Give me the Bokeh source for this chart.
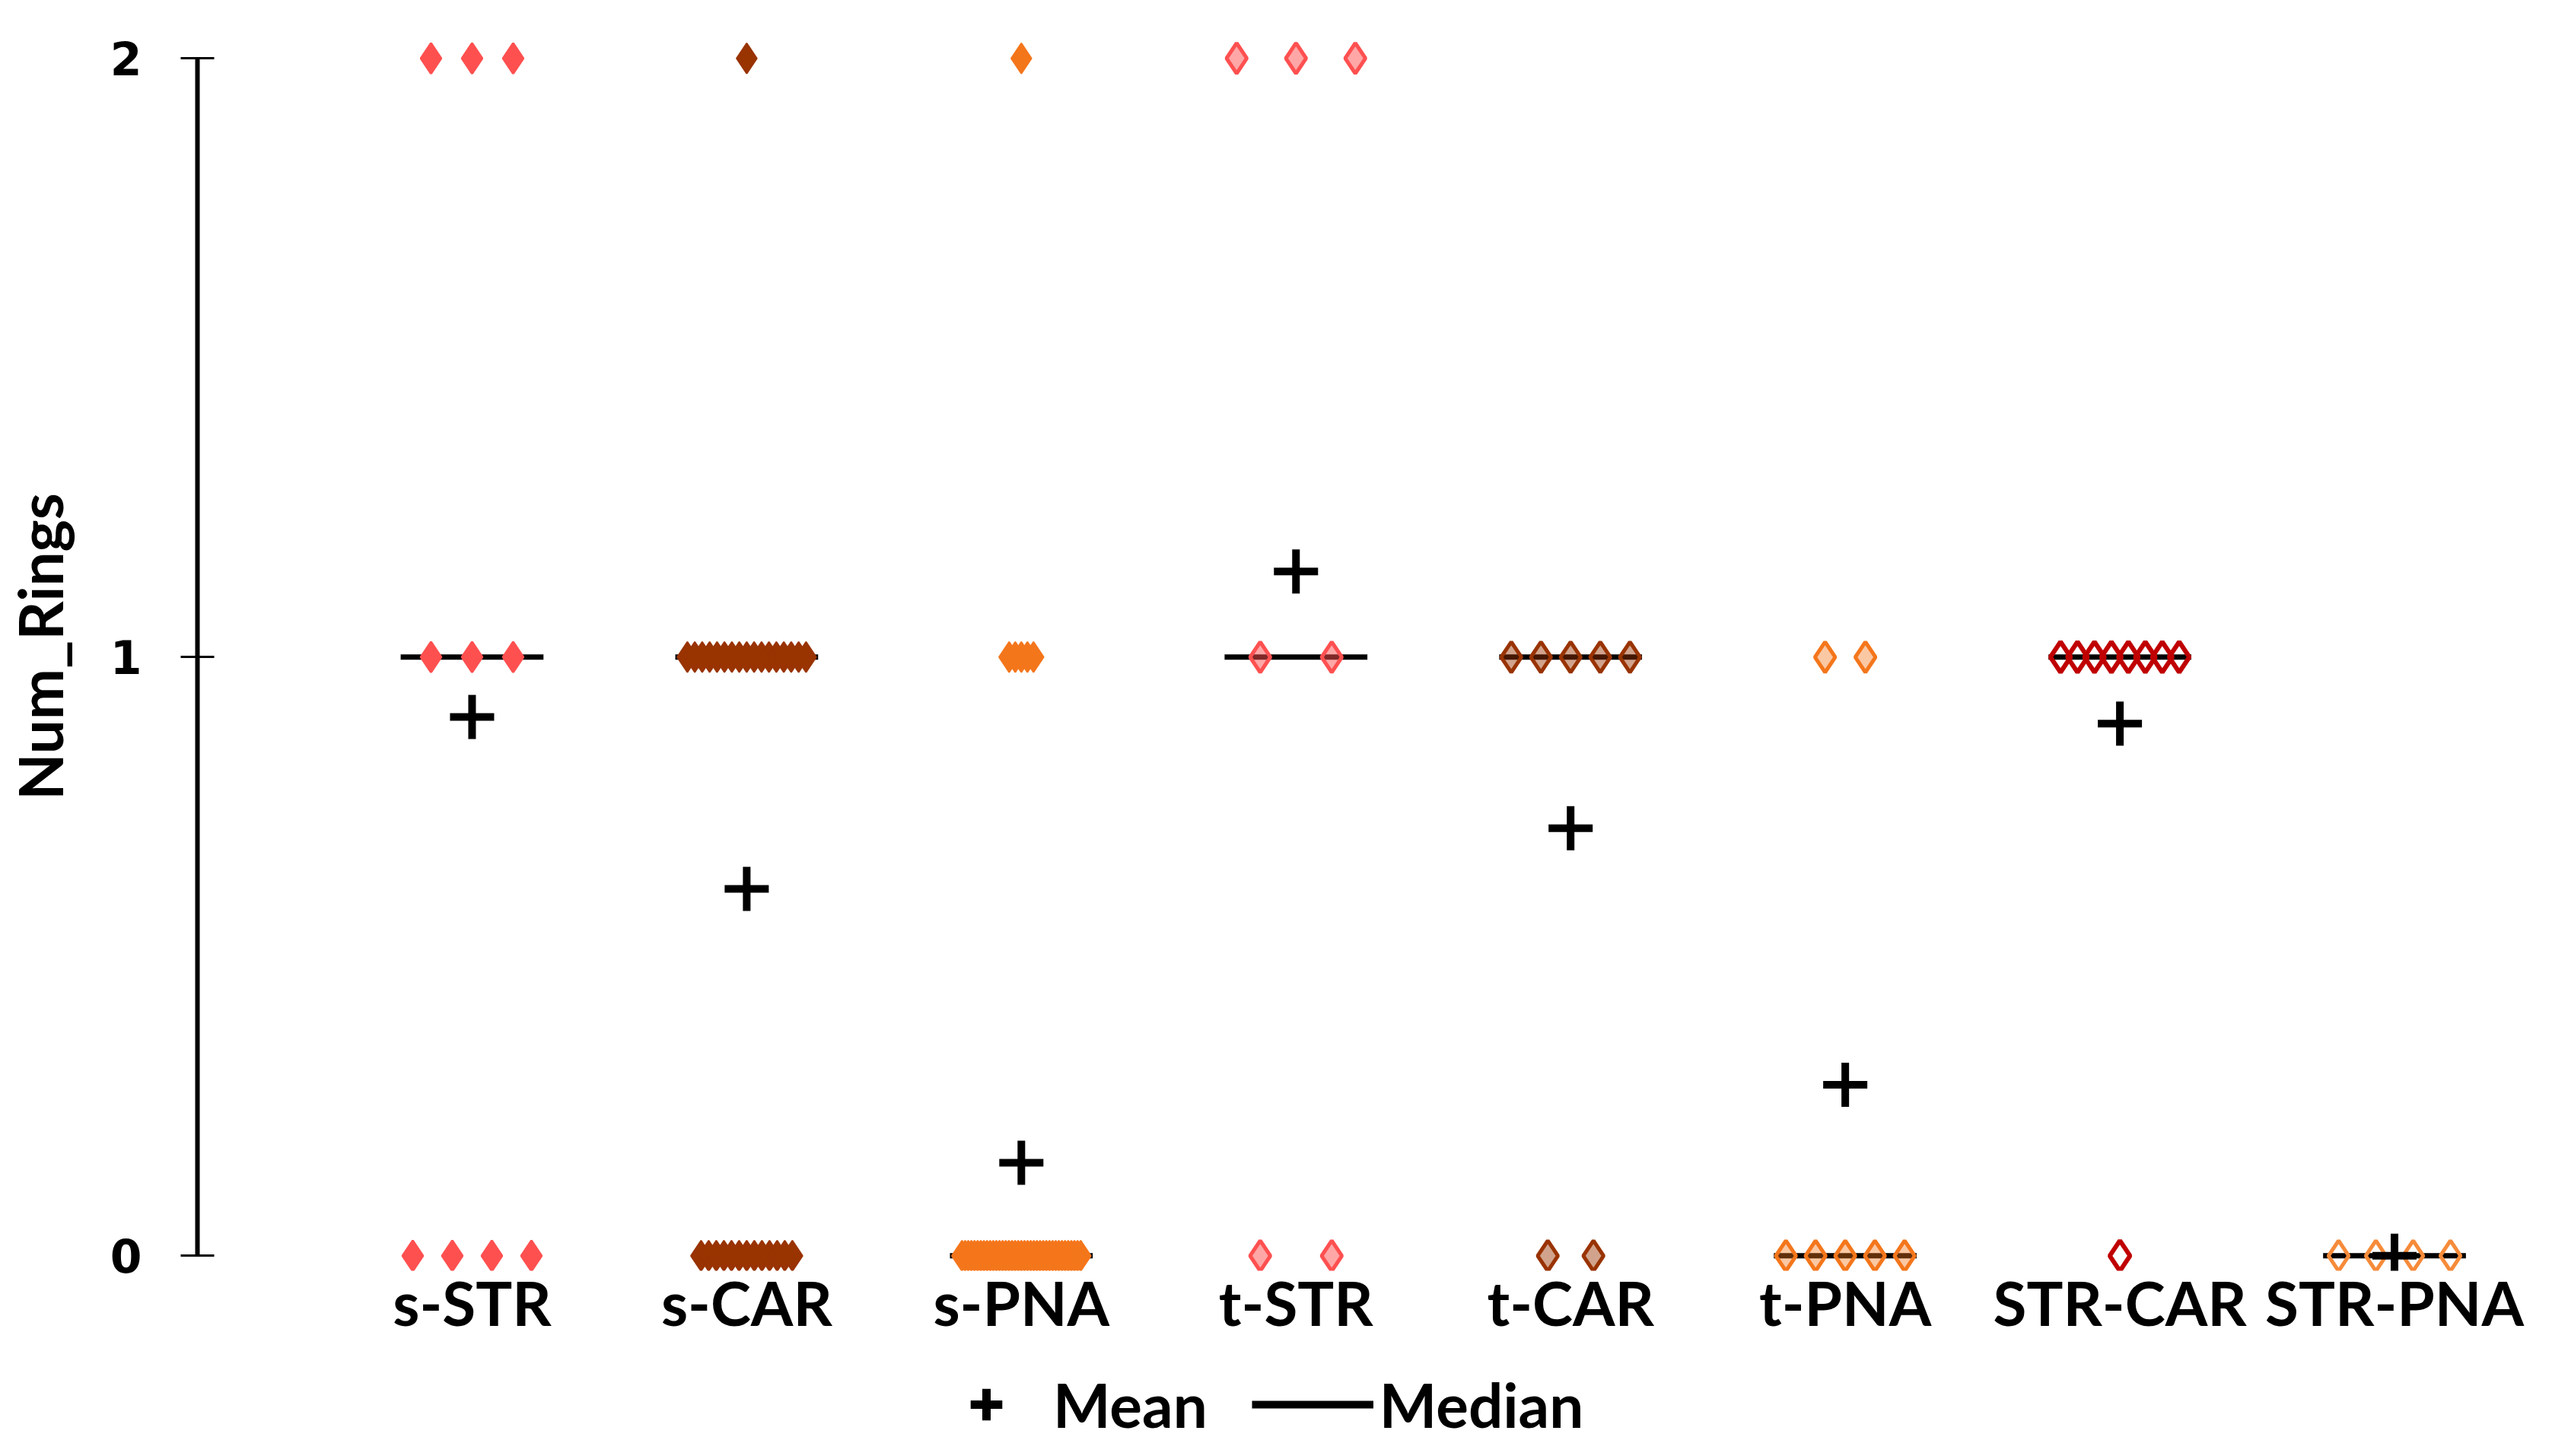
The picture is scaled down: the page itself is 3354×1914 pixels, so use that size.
from bokeh.plotting import figure
from bokeh.layouts import column
from bokeh.models import Range1d, FixedTicker, Legend, LegendItem, ColumnDataSource
from bokeh.embed import file_html
from bokeh.resources import INLINE
import numpy as np

# ---- data ----
categories = ["s-STR", "s-CAR", "s-PNA", "t-STR", "t-CAR", "t-PNA", "STR-CAR", "STR-PNA"]
levels = [0, 1, 2]
count_at_0 = [4, 13, 39, 2, 2, 5, 1, 4]
count_at_1 = [3, 17, 5, 2, 5, 2, 8, 0]
count_at_2 = [3, 1, 1, 3, 0, 0, 0, 0]
y_ticks = [0, 1, 2]
y_title = "Num_Rings"
legend_labels = ["Mean", "Median"]

# ---- styles ----
edge_colors = ["#FF5050", "#993300", "#F4761B", "#FF5050", "#993300", "#F4761B", "#C00000", "#F68B3A"]
fill_alphas = [1.0, 1.0, 1.0, 0.5, 0.45, 0.4, 0.0, 0.0]
edge_widths = [3, 2, 2, 5, 5, 5, 6, 5]
step_px = [54, 10, 8, 94, 60, 53, 30, 49]   # max jitter step per category (screen px)
max_span_px = 156.0
px_per_unit = 361.0
FONT = "Lato"
W = 3338
H_MAIN = 1765
H_LEG = 1898 - H_MAIN
LEFT = 258

p = figure(width=W, height=H_MAIN, x_range=Range1d(0, 8.5), y_range=Range1d(-0.025, 2.06),
           output_backend="svg", toolbar_location=None,
           min_border_left=LEFT, min_border_right=11, min_border_top=29, min_border_bottom=H_MAIN - 1670)
p.grid.visible = False
p.outline_line_color = None
p.background_fill_color = "white"

# y axis
ya = p.yaxis[0]
ya.bounds = (0, 2)
ya.ticker = FixedTicker(ticks=y_ticks)
ya.axis_line_width = 6
ya.axis_line_color = "black"
ya.major_tick_in = 22
ya.major_tick_out = 22
ya.major_tick_line_width = 3
ya.minor_tick_line_color = None
ya.major_label_text_font = "DejaVu Sans"
ya.major_label_text_font_style = "bold"
ya.major_label_text_font_size = "60px"
ya.major_label_text_color = "black"
ya.major_label_standoff = 51
ya.axis_label = y_title
ya.axis_label_text_font = FONT
ya.axis_label_text_font_style = "bold"
ya.axis_label_text_font_size = "80px"
ya.axis_label_text_color = "black"
ya.axis_label_standoff = 42

# x axis
xa = p.xaxis[0]
xa.ticker = FixedTicker(ticks=list(range(1, len(categories) + 1)))
xa.major_label_overrides = {i + 1: c for i, c in enumerate(categories)}
xa.axis_line_color = None
xa.major_tick_line_color = None
xa.minor_tick_line_color = None
xa.major_label_text_font = FONT
xa.major_label_text_font_style = "bold"
xa.major_label_text_font_size = "80px"
xa.major_label_text_color = "black"
xa.major_label_standoff = -13

# statistics from the counts
means, medians = [], []
for i in range(len(categories)):
    vals = [0] * count_at_0[i] + [1] * count_at_1[i] + [2] * count_at_2[i]
    means.append(float(np.mean(vals)))
    medians.append(float(np.median(vals)))

xc = list(range(1, len(categories) + 1))
half = 0.26
med_src = ColumnDataSource(dict(x0=[x - half for x in xc], x1=[x + half for x in xc], y=medians))
p.segment(x0="x0", y0="y", x1="x1", y1="y", source=med_src, line_color="black", line_width=7)

# jittered points
counts_by_level = [count_at_0, count_at_1, count_at_2]
for i, cat in enumerate(categories):
    xs, ys = [], []
    for lv, counts in zip(levels, counts_by_level):
        n = counts[i]
        if n == 0:
            continue
        step = step_px[i] if n == 1 else min(step_px[i], max_span_px / (n - 1))
        for k in range(n):
            xs.append(xc[i] + (k - (n - 1) / 2) * step / px_per_unit)
            ys.append(lv)
    p.scatter(xs, ys, marker="diamond", size=40, line_color=edge_colors[i], line_width=edge_widths[i],
              fill_color=edge_colors[i], fill_alpha=fill_alphas[i])

p.scatter(x=xc, y=means, marker="cross", size=58, line_color="black", line_width=10)

# ---- legend strip below the chart (proxy glyphs carry no visible data) ----
p2 = figure(width=W, height=H_LEG, x_range=Range1d(0, 1), y_range=Range1d(0, 1),
            output_backend="svg", toolbar_location=None,
            x_axis_location=None, y_axis_location=None,
            min_border_left=0, min_border_right=0, min_border_top=0, min_border_bottom=0)
p2.grid.visible = False
p2.outline_line_color = None
nan = [float("nan")]
leg_mean = p2.scatter(x=nan, y=nan, marker="cross", line_color="black", line_width=11)
leg_median = p2.segment(x0=nan, y0=nan, x1=nan, y1=nan, line_color="black", line_width=10)
legend = Legend(items=[LegendItem(label=legend_labels[0], renderers=[leg_mean]),
                       LegendItem(label=legend_labels[1], renderers=[leg_median])],
                orientation="horizontal", location=(1215 - LEFT, 0),
                glyph_width=160, glyph_height=104, label_standoff=8, spacing=58,
                padding=0, margin=0, border_line_color=None, background_fill_alpha=0,
                label_text_font=FONT, label_text_font_style="bold", label_text_font_size="80px",
                label_text_color="black")
p2.add_layout(legend)

layout = column(p, p2, spacing=0)
open("out.html", "w").write(file_html(layout, INLINE))
